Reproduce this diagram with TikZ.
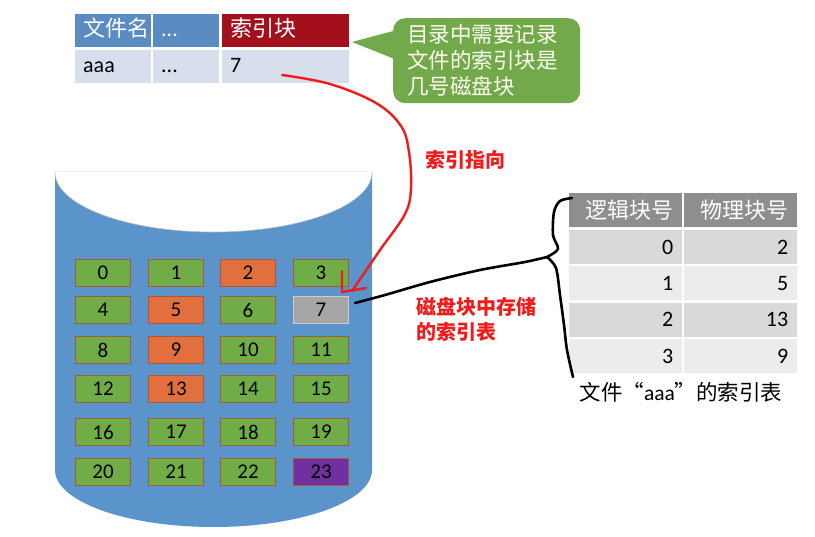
\documentclass[tikz,border=0pt]{standalone}
\usepackage{fontspec}
\setmainfont{Noto Sans CJK SC}
\newfontfamily\latinfont{Carlito}
\usetikzlibrary{calc,shapes,arrows}

\definecolor{tblblue}{HTML}{5A8BC1}
\definecolor{tblred}{HTML}{A3101C}
\definecolor{tblrow}{HTML}{D6DFEB}
\definecolor{callgreen}{HTML}{72A94B}
\definecolor{cylblue}{HTML}{5B94CB}
\definecolor{blkgreen}{HTML}{70AD47}
\definecolor{blkedge}{HTML}{A45A3A}
\definecolor{blkorange}{HTML}{E2703F}
\definecolor{blkgray}{HTML}{A6A6A6}
\definecolor{blkpurple}{HTML}{7030A0}
\definecolor{hdrgray}{HTML}{8E8E8E}
\definecolor{rowdark}{HTML}{D9D9D9}
\definecolor{rowlight}{HTML}{ECECEC}
\definecolor{penred}{HTML}{F01C1C}

\tikzset{
  blk/.style={draw=blkedge, line width=0.8pt, fill=blkgreen, minimum width=55pt,
    minimum height=27pt, inner sep=0pt, font=\fontsize{21}{21}\selectfont\latinfont},
  blk2/.style={fill=blkorange},
  blk5/.style={fill=blkorange},
  blk9/.style={fill=blkorange},
  blk13/.style={fill=blkorange},
  blk7/.style={fill=blkgray, draw=gray!40},
  blk23/.style={fill=blkpurple},
  cell/.style={anchor=north west, inner xsep=8pt, inner ysep=0pt, minimum height=33pt,
    text height=17pt, text depth=5pt,
    text width=#1, align=left, font=\fontsize{22}{24}\selectfont},
  rcell/.style={anchor=north west, inner xsep=9pt, inner ysep=0pt, minimum height=34pt,
    text width=95pt, align=right, font=\fontsize{22}{24}\selectfont},
  redtxt/.style={text=penred, font=\fontsize{20}{25}\selectfont\bfseries},
  redpen/.style={draw=penred, line width=2.4pt, line cap=round, line join=round},
  blackpen/.style={draw=black, line width=2.6pt, line cap=round, line join=round}
}

\begin{document}
\begin{tikzpicture}[x=1pt,y=-1pt]
  \useasboundingbox (0,0) rectangle (815,537);

  % disk
  \fill[cylblue] (55,172) -- (55,470) arc[start angle=180, end angle=0, x radius=158.5, y radius=57]
    -- (372,172) -- cycle;
  \fill[white] (55,172) arc[start angle=180, end angle=0, x radius=158.5, y radius=60];
  \draw[gray!50, line width=0.6pt] (55,172) arc[start angle=180, end angle=0, x radius=158.5, y radius=60];

  \foreach \y [count=\r from 0] in {273,310,350,389,432,472}
    \foreach \x [count=\c from 0] in {103,176,248,321} {
      \pgfmathtruncatemacro\n{4*\r+\c}
      \node[blk, blk\n/.try] (b\n) at (\x,\y) {\n};
    }

  % directory entry
  \node[cell=60pt, fill=tblblue, text=white] (fname) at (75,14) {文件名};
  \node[cell=50pt, fill=tblblue, text=white] (fdots) at (153,14) {\latinfont ...};
  \node[cell=111pt, fill=tblred, text=white] (fidx) at (222,14) {索引块};
  \node[cell=60pt, fill=tblrow] (vname) at (75,50) {\latinfont aaa};
  \node[cell=50pt, fill=tblrow] (vdots) at (153,50) {\latinfont ...};
  \node[cell=111pt, fill=tblrow] (vidx) at (222,50) {\latinfont 7};

  % note
  \node[anchor=north west, fill=callgreen, rounded corners=12pt, text=white!94!yellow,
    inner xsep=14pt, inner ysep=0pt, minimum height=85pt, text width=159pt, align=left,
    font=\fontsize{21.5}{26}\selectfont] (note) at (393,18) {目录中需要记录\\文件的索引块是\\几号磁盘块};
  \coordinate (tip) at (352,42);
  \fill[callgreen] ($(note.north west)+(4,12)$) -- (tip) -- ($(note.north west)+(4,42)$) -- cycle;

  % index table of aaa
  \node[rcell, fill=hdrgray, text=white] (lghdr) at (569,193) {逻辑块号};
  \node[rcell, fill=hdrgray, text=white] (phhdr) at (684,193) {物理块号};
  \foreach \l/\p/\f [count=\i from 0] in {0/2/rowdark,1/5/rowlight,2/13/rowdark,3/9/rowlight} {
    \node[rcell, fill=\f] (lg\i) at (569,230+36.3*\i) {\latinfont\l};
    \node[rcell, fill=\f] (ph\i) at (684,230+36.3*\i) {\latinfont\p};
  }
  \node[font=\fontsize{21.5}{22}\selectfont] (cap) at (681,392) {文件“{\latinfont aaa}”的索引表};

  % pen marks
  \node[redtxt] (ptrlbl) at (465,160) {索引指向};
  \node[redtxt, anchor=west, align=left] (tbllbl) at (413,319) {磁盘块中存储\\的索引表};

  \coordinate (rstart) at (282,75);
  \coordinate (rend) at (352,291);
  \draw[redpen] plot[smooth, tension=0.6] coordinates {(rstart) (330,84) (376,103) (401,126)
    (409,152) (411,188) (405,214) (380,250) (rend)};
  \draw[redpen] (342,271) -- (342,292) -- (366,288);

  \coordinate (bstart) at (355,303);
  \coordinate (bracetip) at (547,257);
  \draw[blackpen] plot[smooth] coordinates {(bstart) (385,295) (430,282) (480,270) (525,262) (bracetip)};
  \draw[blackpen] plot[smooth, tension=0.5] coordinates {(572,198) (560,201) (554,212) (553,235)
    (558,249) (bracetip)};
  \draw[blackpen] plot[smooth, tension=0.5] coordinates {(bracetip) (556,268) (560,295)
    (564,325) (567,350) (573,377)};
\end{tikzpicture}
\end{document}
